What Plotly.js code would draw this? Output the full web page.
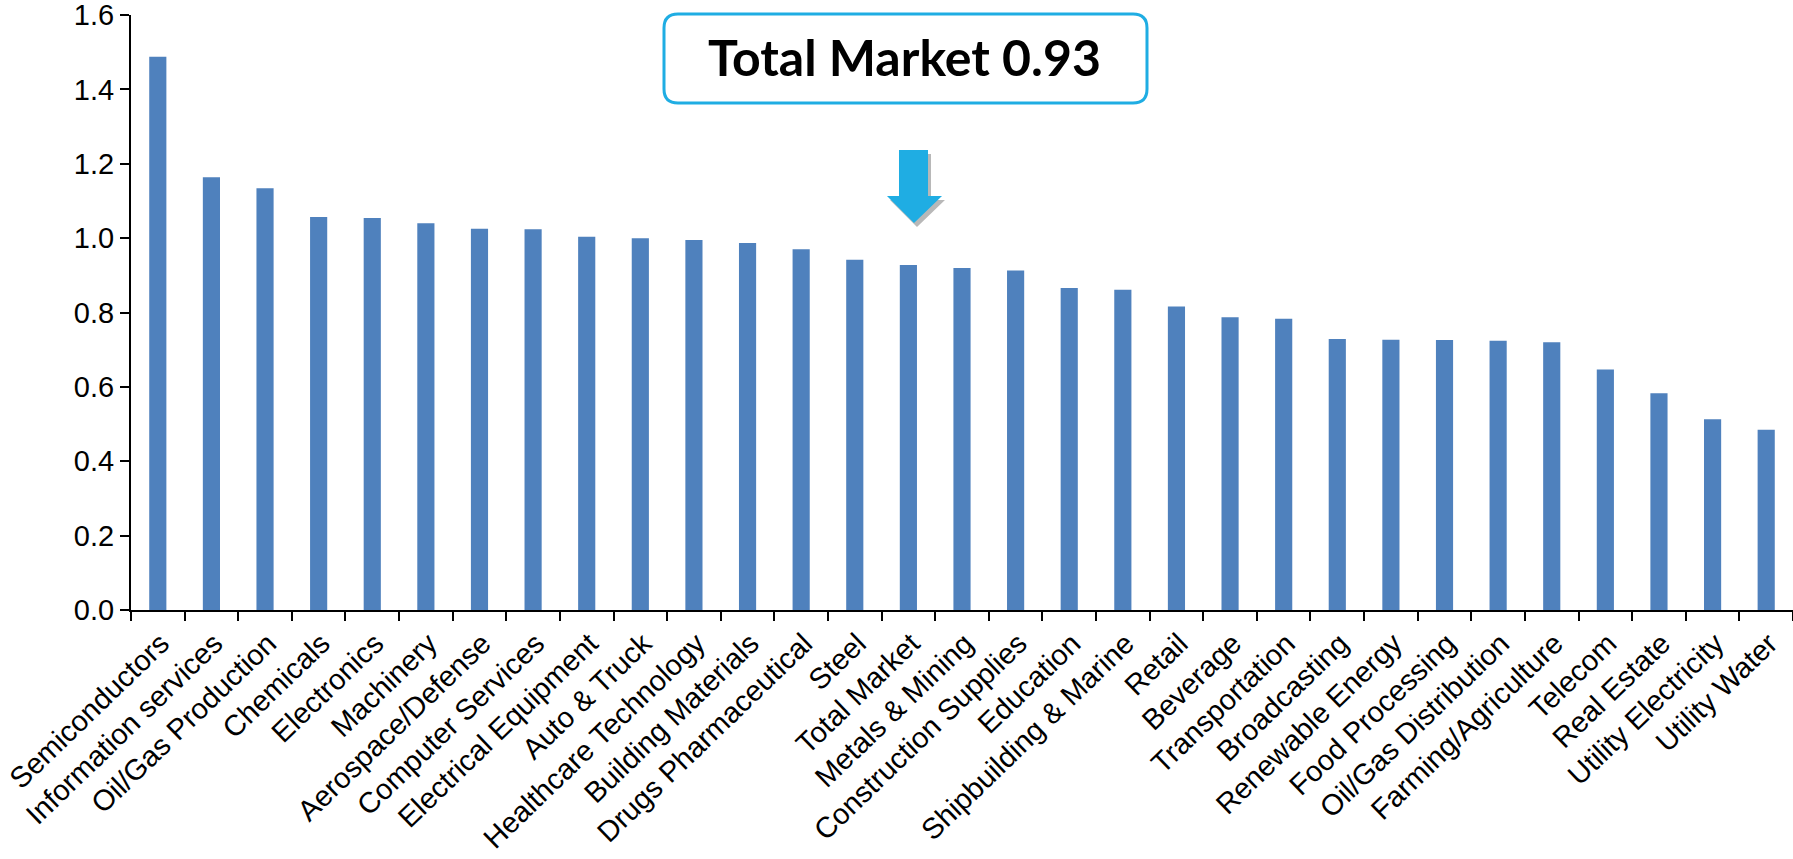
<!DOCTYPE html>
<html><head><meta charset="utf-8">
<script src="https://cdn.plot.ly/plotly-3.0.1.min.js"></script>
<style>html,body{margin:0;padding:0;background:#fff}#chart{width:1793px;height:859px}</style>
</head><body><div id="chart"></div>
<script>
const categories = ["Semiconductors","Information services","Oil/Gas Production","Chemicals","Electronics","Machinery","Aerospace/Defense","Computer Services","Electrical Equipment","Auto & Truck","Healthcare Technology","Building Materials","Drugs Pharmaceutical","Steel","Total Market","Metals & Mining","Construction Supplies","Education","Shipbuilding & Marine","Retail","Beverage","Transportation","Broadcasting","Renewable Energy","Food Processing","Oil/Gas Distribution","Farming/Agriculture","Telecom","Real Estate","Utility Electricity","Utility Water"];
const values = [1.488,1.164,1.134,1.057,1.054,1.040,1.025,1.024,1.004,1.000,0.995,0.987,0.970,0.942,0.928,0.920,0.913,0.866,0.861,0.816,0.787,0.783,0.729,0.727,0.726,0.724,0.720,0.647,0.583,0.513,0.485];
const yTickValues = [0,0.2,0.4,0.6,0.8,1.0,1.2,1.4,1.6];
const yTickLabels = ["0.0","0.2","0.4","0.6","0.8","1.0","1.2","1.4","1.6"];
const calloutText = "Total Market 0.93";

const W=1793,H=859,L=131,R=0,T=15,B=249;
const PW=W-L-R, PH=H-T-B;
const px=x=>(x-L)/PW, py=y=>(H-B-y)/PH;
function pathFromPx(pts){return pts.map((p,i)=>(i?'L':'M')+px(p[0]).toFixed(5)+','+py(p[1]).toFixed(5)).join(' ')+' Z';}
function roundRect(x0,y0,x1,y1,r){
  const P=(x,y)=>px(x).toFixed(5)+','+py(y).toFixed(5);
  return 'M'+P(x0+r,y0)+' L'+P(x1-r,y0)+' Q'+P(x1,y0)+' '+P(x1,y0+r)+' L'+P(x1,y1-r)+' Q'+P(x1,y1)+' '+P(x1-r,y1)+
    ' L'+P(x0+r,y1)+' Q'+P(x0,y1)+' '+P(x0,y1-r)+' L'+P(x0,y0+r)+' Q'+P(x0,y0)+' '+P(x0+r,y0)+' Z';
}
const arrowPts=[[899,150],[928,150],[928,196],[942,196],[914,223],[887,196],[899,196]];
const shadowPts=arrowPts.map(p=>[p[0]+3,p[1]+4]);
const blue='#1FADE3';

const trace={type:'bar',x:categories,y:values,marker:{color:'#4F81BD',line:{width:0}},hoverinfo:'x+y',cliponaxis:false};
const layout={
  width:W,height:H,margin:{l:L,r:R,t:T,b:B,pad:0},
  paper_bgcolor:'#fff',plot_bgcolor:'#fff',showlegend:false,bargap:0.68,
  font:{family:'"Liberation Sans", Arial, sans-serif',color:'#000'},
  xaxis:{type:'category',tickangle:-44,tickson:'boundaries',ticks:'outside',ticklen:9,tickwidth:2,tickcolor:'#000',
    ticklabelshift:3,ticklabelstandoff:3,ticklabeloverflow:'allow',
    showline:true,linecolor:'#000',linewidth:2,showgrid:false,zeroline:false,tickfont:{size:29,color:'#000'},automargin:false},
  yaxis:{range:[0,1.6],tickmode:'array',tickvals:yTickValues,ticktext:yTickLabels,ticks:'outside',ticklen:9,tickwidth:2,tickcolor:'#000',
    ticklabeloverflow:'allow',
    showline:true,linecolor:'#000',linewidth:2,showgrid:false,zeroline:false,tickfont:{size:29,color:'#000'},automargin:false},
  shapes:[
    {type:'path',xref:'paper',yref:'paper',path:roundRect(664,14,1147,103,14),line:{color:blue,width:3},fillcolor:'#fff'},
    {type:'path',xref:'paper',yref:'paper',path:pathFromPx(shadowPts),line:{width:0},fillcolor:'rgba(0,0,0,0.28)'},
    {type:'path',xref:'paper',yref:'paper',path:pathFromPx(arrowPts),line:{width:0},fillcolor:blue}
  ],
  annotations:[{xref:'paper',yref:'paper',x:px(904.5),y:py(57),xanchor:'center',yanchor:'middle',showarrow:false,
    text:'<b>'+calloutText+'</b>',font:{family:'Lato, "Open Sans", sans-serif',size:50,color:'#000'}}]
};
Plotly.newPlot('chart',[trace],layout,{displayModeBar:false,staticPlot:true});
</script></body></html>
